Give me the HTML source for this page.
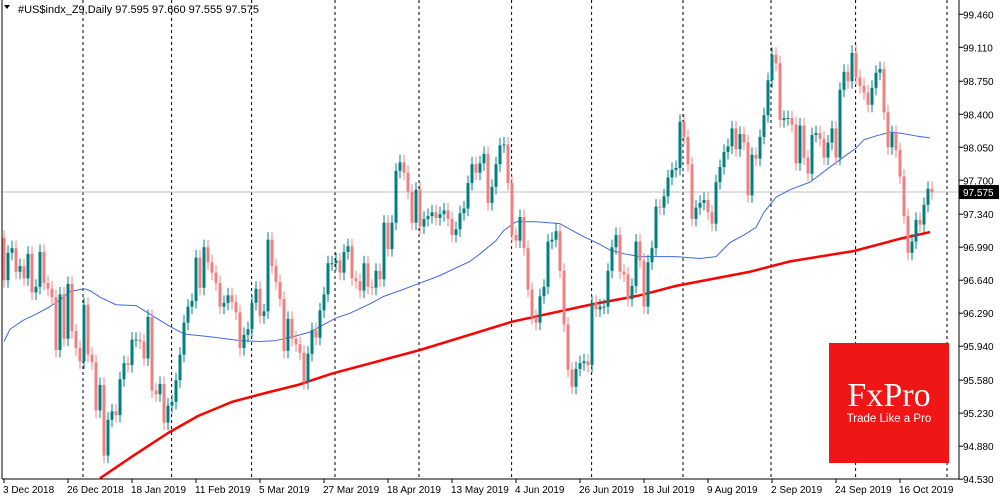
<!DOCTYPE html>
<html><head><meta charset="utf-8"><style>
body{margin:0;background:#fff;}
svg{display:block;font-family:"Liberation Sans",sans-serif;}
</style></head><body>
<svg id="chart" width="1000" height="500" viewBox="0 0 1000 500" xmlns="http://www.w3.org/2000/svg">
<rect x="0" y="0" width="1000" height="500" fill="#fff"/>
<g id="grid"></g>
<g id="ma"></g>
<g id="candles"></g>
<g id="axes"></g>
<text x="18" y="13" font-size="11" fill="#000">#US$indx_Z9,Daily  97.595 97.660 97.555 97.575</text>
<path d="M4 5 L10 5 L7 9 Z" fill="#000"/>
<g>
<rect x="829" y="343" width="120" height="120" fill="#f01616"/>
<text x="889" y="406" font-family="Liberation Serif,serif" font-size="34" fill="#fff" text-anchor="middle">FxPro</text>
<text x="889" y="422" font-size="11.5" fill="#fff" text-anchor="middle">Trade Like a Pro</text>
</g>
</svg>
<script>
const closes=[96.64,96.93,96.98,96.73,96.79,96.66,96.92,96.51,96.57,96.94,96.61,96.55,96.46,95.90,96.49,96.02,96.60,96.10,95.92,95.78,96.38,95.85,95.77,95.26,95.53,94.78,95.16,95.25,95.21,95.59,95.76,95.74,96.01,96.01,95.99,95.81,96.25,95.47,95.43,95.54,95.13,95.31,
95.35,95.58,95.85,96.19,96.36,96.42,96.88,96.56,96.99,96.83,96.72,96.61,96.36,96.40,96.48,96.41,96.30,95.92,96.06,96.12,96.40,96.55,96.26,96.31,97.07,96.79,96.62,96.44,95.89,96.23,96.02,95.96,95.87,95.56,95.86,96.11,96.03,96.32,96.49,96.82,96.82,
96.85,96.72,96.94,97.00,96.66,96.63,96.53,96.82,96.57,96.56,96.74,96.65,97.25,96.97,97.25,97.80,97.89,97.78,97.58,97.25,97.60,97.21,97.29,97.32,97.36,97.30,97.34,97.38,97.29,97.12,97.18,97.35,97.40,97.67,97.87,97.78,97.88,97.98,97.46,97.63,97.87,98.07,98.08,97.67,
97.12,97.06,97.31,96.98,96.54,96.25,96.19,96.47,96.57,97.05,97.07,97.16,96.74,96.17,95.69,95.51,95.70,95.76,95.78,95.74,96.40,96.33,96.36,96.36,96.74,96.99,97.12,96.73,96.70,96.44,96.58,97.05,96.85,96.36,96.83,96.98,97.42,97.41,97.53,97.73,97.81,
97.83,98.32,98.16,97.87,97.29,97.41,97.46,97.49,97.36,97.24,97.68,97.84,98.00,98.06,98.25,98.03,98.19,98.10,97.54,97.97,97.93,98.16,98.39,98.76,99.03,98.94,98.34,98.36,98.36,98.29,97.88,98.28,
97.94,97.77,98.18,98.20,98.14,97.94,98.10,98.25,97.94,98.66,98.85,98.75,99.05,98.79,98.70,98.63,98.50,98.68,98.84,98.88,98.42,98.05,98.20,98.02,97.74,97.32,96.93,97.05,97.28,97.23,97.44,97.61,97.575];
const firstOpen=97.09;
const ma50Idx=[0,1.5,5,8,11.5,14,16.5,20,21.5,24,28,33,35,38,41.5,45,51.5,59,64,68,73,76.5,83,86.5,91.5,95,99,104,109,113,116.5,119,123,125,128,133,139,141.5,145,149,151.5,155,159,168,174,178,181.5,185,188,190,193,196.5,201.5,206.5,210,213,215,218,221.5,224,228,231.5];
const ma50Vals=[95.99,96.12,96.22,96.28,96.36,96.43,96.52,96.55,96.53,96.46,96.38,96.37,96.32,96.24,96.15,96.07,96.04,96.00,95.99,96.00,96.05,96.09,96.24,96.29,96.39,96.47,96.53,96.61,96.69,96.77,96.84,96.92,97.06,97.17,97.26,97.26,97.24,97.18,97.10,97.02,96.96,96.92,96.89,96.89,96.87,96.89,97.04,97.12,97.20,97.36,97.52,97.60,97.68,97.84,97.95,98.04,98.13,98.17,98.21,98.20,98.17,98.15];
const ma200Idx=[24,32,41,48.5,57,65,73.5,82,104,127,146.5,159,168,186.5,196.5,212.5,224,231.5];
const ma200Vals=[94.54,94.77,95.02,95.20,95.35,95.44,95.53,95.65,95.90,96.20,96.38,96.48,96.58,96.73,96.84,96.95,97.08,97.15];
const yTicks=[99.460,99.110,98.750,98.400,98.050,97.700,97.340,96.990,96.640,96.290,95.940,95.580,95.230,94.880,94.530];
const xLabels=["3 Dec 2018","26 Dec 2018","18 Jan 2019","11 Feb 2019","5 Mar 2019","27 Mar 2019","18 Apr 2019","13 May 2019","4 Jun 2019","26 Jun 2019","18 Jul 2019","9 Aug 2019","2 Sep 2019","24 Sep 2019","16 Oct 2019"];
const vLineIdx=[19.75,41.9,61.9,82.75,103.75,126.9,146.9,169.75,191.75,212.9,235.75];
const lastPrice=97.575;

const NS="http://www.w3.org/2000/svg";
const PL=2,PR=959,PB=479;
const xOf=i=>4+4*i;
const yOf=p=>47.3+(99.11-p)*94.3;
function mk(tag,attrs,parent){const e=document.createElementNS(NS,tag);for(const k in attrs)e.setAttribute(k,attrs[k]);parent.appendChild(e);return e;}
const grid=document.getElementById('grid'),maG=document.getElementById('ma'),cG=document.getElementById('candles'),ax=document.getElementById('axes');
const defs=mk('defs',{},document.getElementById('chart'));
const cp=mk('clipPath',{id:'plot'},defs);mk('rect',{x:PL,y:0,width:PR-PL,height:PB},cp);
maG.setAttribute('clip-path','url(#plot)');
vLineIdx.forEach(v=>{
  const l=mk('line',{x1:xOf(v),x2:xOf(v),y1:0,y2:PB,stroke:'#000','stroke-dasharray':'3,3','stroke-width':1},grid);
  
  
});
const bid=mk('line',{x1:PL,x2:PR,y1:yOf(lastPrice),y2:yOf(lastPrice),stroke:'#c0c0c0','stroke-width':1},grid);


function poly(idx,vals,color,w,name){
  const pts=idx.map((v,k)=>xOf(v)+','+yOf(vals[k])).join(' ');
  const p=mk('polyline',{points:pts,fill:'none',stroke:color,'stroke-width':w,'stroke-linejoin':'round'},maG);
  
  
}
poly(ma50Idx,ma50Vals,'#4169e1',1,'ma-50-line');
poly(ma200Idx,ma200Vals,'#ff0000',2.5,'ma-200-line');
closes.forEach((c,i)=>{
  const o=i===0?firstOpen:closes[i-1];
  const up=c>=o;
  const col=up?'#008080':'#f08080';
  const hi=Math.max(o,c)+0.08,lo=Math.min(o,c)-0.08;
  const x=xOf(i);
  const g=mk('g',{},cG);
  
  
  mk('line',{x1:x,x2:x,y1:yOf(hi),y2:yOf(lo),stroke:col,'stroke-width':1},g);
  const t=yOf(Math.max(o,c)),b=yOf(Math.min(o,c));
  mk('rect',{x:x-1.5,y:t,width:3,height:Math.max(1,b-t),fill:col},g);
});
mk('line',{x1:PL,x2:PL,y1:0,y2:PB,stroke:'#000'},ax);
mk('line',{x1:PR,x2:PR,y1:0,y2:PB,stroke:'#000'},ax);
mk('line',{x1:PL,x2:PR,y1:PB,y2:PB,stroke:'#000'},ax);
yTicks.forEach(t=>{
  const y=yOf(t);
  mk('line',{x1:PR,x2:PR+4,y1:y,y2:y,stroke:'#000'},ax);
  const tx=mk('text',{x:963,y:y+4,'font-size':10,fill:'#000'},ax);
  tx.textContent=t.toFixed(3);
  
  
});
xLabels.forEach((s,k)=>{
  const x=xOf(k*16);
  mk('line',{x1:x,x2:x,y1:PB,y2:PB+4,stroke:'#000'},ax);
  const tx=mk('text',{x:x-1,y:493,'font-size':10,fill:'#000'},ax);
  tx.textContent=s;
  
  
});
const ly=yOf(lastPrice);
const box=mk('rect',{x:PR,y:ly-7,width:40,height:14,fill:'#000'},ax);


const lt=mk('text',{x:963,y:ly+4,'font-size':10,fill:'#fff'},ax);
lt.textContent=lastPrice.toFixed(3);


</script>
</body></html>
